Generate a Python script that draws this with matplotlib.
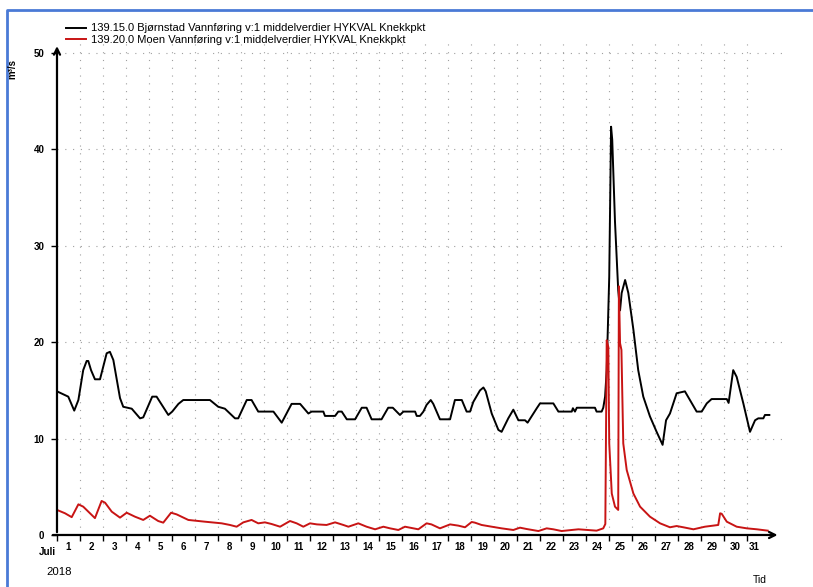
#!/usr/bin/env python3
"""Daily discharge, July 2018: Bjørnstad vs Moen (HYKVAL knekkpunkt)."""

import matplotlib

matplotlib.use("Agg")
import matplotlib.pyplot as plt
from matplotlib.lines import Line2D

plt.rcParams["font.family"] = ["Liberation Sans", "DejaVu Sans"]

# time in days since 1 July 2018 00:00
t_bjornstad = [
    0.0, 0.35, 0.49, 0.75, 0.93, 1.14, 1.29, 1.36, 1.48, 1.65, 1.87, 2.16, 2.30,
    2.45, 2.74, 2.88, 3.25, 3.61, 3.75, 4.14, 4.33, 4.84, 5.01, 5.28, 5.49, 6.65,
    7.01, 7.30, 7.74, 7.88, 8.25, 8.46, 8.75, 9.41, 9.77, 10.20, 10.57, 10.93,
    11.07, 11.58, 11.65, 12.09, 12.23, 12.38, 12.60, 12.96, 13.25, 13.46, 13.68,
    14.11, 14.40, 14.60, 14.91, 15.06, 15.57, 15.64, 15.78, 15.93, 16.07, 16.25,
    16.36, 16.65, 17.09, 17.30, 17.60, 17.81, 17.96, 18.10, 18.39, 18.54, 18.64,
    18.90, 19.19, 19.33, 19.62, 19.84, 20.06, 20.35, 20.46, 20.71, 20.86, 21.00,
    21.58, 21.80, 22.38, 22.43, 22.52, 22.60, 23.39, 23.46, 23.68, 23.75, 23.83,
    23.90, 24.01, 24.09, 24.14, 24.26, 24.40, 24.48, 24.55, 24.70, 24.84, 25.06,
    25.27, 25.49, 25.78, 26.07, 26.33, 26.48, 26.65, 26.94, 27.30, 27.52, 27.81,
    28.03, 28.25, 28.46, 29.12, 29.20, 29.40, 29.55, 29.84, 30.13, 30.35, 30.49,
    30.71, 30.78, 30.97,
]
q_bjornstad = [
    14.9, 14.5, 14.35, 12.9, 14.0, 17.1, 18.05, 18.05, 17.1, 16.15, 16.15, 18.85,
    19.0, 18.15, 14.2, 13.3, 13.1, 12.1, 12.2, 14.35, 14.35, 12.45, 12.8, 13.6,
    14.0, 14.0, 13.3, 13.1, 12.1, 12.1, 14.0, 14.0, 12.8, 12.8, 11.65, 13.6,
    13.6, 12.6, 12.8, 12.8, 12.35, 12.35, 12.8, 12.8, 12.0, 12.0, 13.2, 13.2,
    12.0, 12.0, 13.2, 13.2, 12.45, 12.8, 12.8, 12.35, 12.35, 12.8, 13.5, 14.0,
    13.6, 12.0, 12.0, 14.0, 14.0, 12.8, 12.8, 13.8, 15.0, 15.3, 14.9, 12.6, 10.9,
    10.7, 12.1, 13.0, 11.9, 11.9, 11.65, 12.6, 13.15, 13.65, 13.65, 12.8, 12.8,
    13.15, 12.8, 13.2, 13.2, 12.8, 12.8, 13.2, 14.35, 17.1, 26.8, 42.35, 41.0,
    32.5, 25.4, 23.3, 25.1, 26.45, 25.1, 21.3, 17.1, 14.35, 12.3, 10.7, 9.35,
    11.9, 12.6, 14.7, 14.9, 14.0, 12.8, 12.8, 13.65, 14.1, 14.1, 13.7, 17.1,
    16.4, 13.65, 10.7, 11.9, 12.1, 12.1, 12.45, 12.45,
]

t_moen = [
    0.0, 0.35, 0.64, 0.93, 1.14, 1.65, 1.94, 2.09, 2.38, 2.74, 3.03, 3.39, 3.75,
    4.04, 4.40, 4.62, 4.96, 5.20, 5.71, 6.43, 7.16, 7.52, 7.81, 8.10, 8.46, 8.75,
    9.04, 9.33, 9.70, 10.13, 10.42, 10.71, 11.00, 11.30, 11.72, 12.09, 12.45,
    12.67, 13.10, 13.46, 13.83, 14.19, 14.48, 14.84, 15.13, 15.71, 16.07, 16.28,
    16.65, 17.09, 17.45, 17.74, 18.03, 18.17, 18.46, 18.90, 19.33, 19.84, 20.13,
    20.42, 20.93, 21.29, 21.58, 21.94, 22.38, 22.67, 23.46, 23.75, 23.84, 23.90,
    23.97, 24.01, 24.12, 24.26, 24.40, 24.43, 24.48, 24.54, 24.62, 24.77, 25.06,
    25.35, 25.78, 26.22, 26.65, 26.94, 27.23, 27.67, 28.17, 28.75, 28.83, 28.90,
    29.12, 29.55, 29.99, 30.43, 30.90,
]
q_moen = [
    2.6, 2.25, 1.85, 3.18, 2.94, 1.75, 3.53, 3.35, 2.42, 1.8, 2.31, 1.9, 1.56,
    2.0, 1.45, 1.28, 2.31, 2.14, 1.56, 1.38, 1.21, 1.04, 0.86, 1.31, 1.56, 1.21,
    1.31, 1.14, 0.86, 1.45, 1.21, 0.86, 1.21, 1.1, 1.04, 1.31, 1.04, 0.86, 1.21,
    0.86, 0.59, 0.86, 0.69, 0.52, 0.86, 0.59, 1.21, 1.1, 0.69, 1.1, 0.97, 0.8,
    1.35, 1.28, 1.04, 0.86, 0.69, 0.52, 0.76, 0.62, 0.41, 0.69, 0.59, 0.41, 0.52,
    0.59, 0.45, 0.69, 1.14, 20.2, 19.5, 9.5, 4.3, 2.94, 2.6, 25.8, 19.9, 19.2,
    9.5, 6.74, 4.3, 2.94, 1.9, 1.21, 0.8, 0.93, 0.8, 0.59, 0.86, 1.04, 2.25, 2.2,
    1.38, 0.86, 0.69, 0.59, 0.45,
]

day_labels = [str(d) for d in range(1, 32)]
y_ticks = [0, 10, 20, 30, 40, 50]

label_bjornstad = "139.15.0 Bjørnstad Vannføring v:1 middelverdier HYKVAL Knekkpkt"
label_moen = "139.20.0 Moen Vannføring v:1 middelverdier HYKVAL Knekkpkt"


def main() -> None:
    fig = plt.figure(figsize=(8.13, 5.87), dpi=100)
    ax = fig.add_axes([0.0701, 0.0886, 0.894, 0.8376])

    ax.plot(t_bjornstad, q_bjornstad, color="black", lw=1.4, label=label_bjornstad)
    ax.plot(t_moen, q_moen, color="#c81414", lw=1.4, label=label_moen)

    ax.set_xlim(0, 31.6)
    ax.set_ylim(0, 51)
    for s in ax.spines.values():
        s.set_visible(False)

    # axes with arrow heads
    arrow = dict(arrowstyle="->", lw=1.6, color="black", mutation_scale=11)
    ax.annotate("", xy=(31.45, 0), xytext=(-0.3, 0), arrowprops=arrow,
                annotation_clip=False)
    ax.annotate("", xy=(0, 51.0), xytext=(0, 0), arrowprops=arrow,
                annotation_clip=False)

    # day boundaries as major ticks, day numbers centred as minor ticks
    ax.set_xticks(range(0, 31))
    ax.set_xticklabels([])
    centres = [d - 0.5 for d in range(1, 31)] + [30.3]
    ax.set_xticks(centres, minor=True)
    ax.set_xticklabels(day_labels, minor=True, fontsize=7, fontweight="bold")
    ax.tick_params(axis="x", which="major", length=4, width=1, direction="out")
    ax.tick_params(axis="x", which="minor", length=0, pad=5)

    ax.set_yticks(y_ticks)
    ax.set_yticklabels([str(v) for v in y_ticks], fontsize=7, fontweight="bold")
    ax.tick_params(axis="y", length=4, width=1, pad=5)

    dots = (0, (1, 6))
    for d in range(1, 31):
        ax.axvline(d, color="#a0a0a0", lw=0.8, ls=dots, zorder=0)
    for v in y_ticks[1:]:
        ax.axhline(v, color="#a0a0a0", lw=0.8, ls=dots, zorder=0)

    fig.legend(loc="upper left", bbox_to_anchor=(0.0815, 0.960), frameon=False,
               fontsize=8, handlelength=1.75, handletextpad=0.45,
               labelspacing=0.15, borderpad=0, borderaxespad=0)

    fig.text(0.015, 0.883, "m³/s", rotation=90, fontsize=7, fontweight="bold",
             ha="center", va="center")
    fig.text(0.058, 0.060, "Juli", fontsize=7, fontweight="bold",
             ha="center", va="center")
    fig.text(0.073, 0.026, "2018", fontsize=8.2, ha="center", va="center")
    fig.text(0.935, 0.003, "Tid", fontsize=7.5, ha="center", va="bottom")

    # blue frame along the top and left edge
    fig.add_artist(Line2D([0.009, 0.009, 1.0], [0.0, 0.983, 0.983],
                          transform=fig.transFigure, color="#4a7ad6", lw=2))

    fig.savefig("out.png", dpi=100)


if __name__ == "__main__":
    main()
